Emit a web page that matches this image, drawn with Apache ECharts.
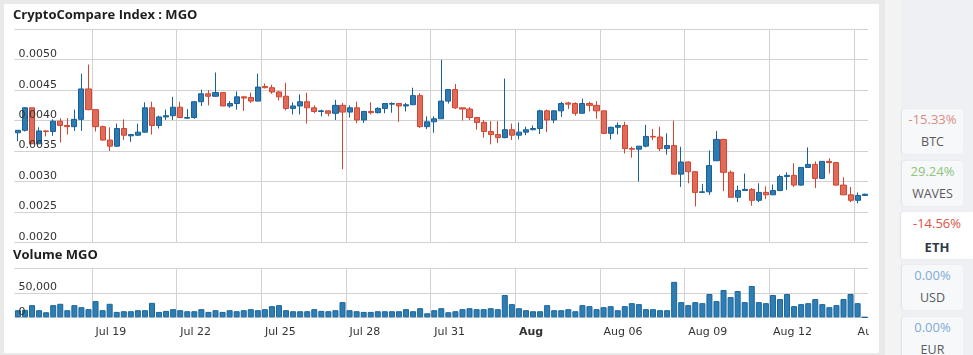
<!DOCTYPE html>
<html>
<head>
<meta charset="utf-8">
<script src="https://cdn.jsdelivr.net/npm/echarts@6/dist/echarts.min.js"></script>
<style>
html,body{margin:0;padding:0;width:973px;height:355px;overflow:hidden;background:#e9e9e9;font-family:'Open Sans',sans-serif;}
#panel{position:absolute;left:4px;top:4px;width:875px;height:349px;background:#fff;}
#chart{position:absolute;left:0;top:0;width:869px;height:355px;}
#strip{position:absolute;left:885px;top:0;width:16px;height:355px;background:#f3f3f3;}
#side{position:absolute;left:901px;top:0;width:72px;height:355px;background:#eef0f3;}
.card{position:absolute;left:902px;width:61px;height:45px;background:#f7f8fa;border-radius:3px;box-shadow:-1px 0 2px rgba(0,0,0,0.07);}
.card.sel{left:901px;width:72px;height:47px;background:#fff;border-radius:3px 0 0 3px;}
.pct{position:absolute;left:0;right:0;top:1px;height:18px;line-height:18px;text-align:center;font-size:13px;}
.nm{position:absolute;left:0;right:0;top:24px;height:18px;line-height:18px;text-align:center;font-size:12.5px;color:#5a5a5a;}
.sel .pct{top:2px;}
.sel .nm{top:26px;font-weight:bold;color:#2d3a4a;font-size:13px;}
</style>
</head>
<body>
<div id="panel"></div>
<div id="strip"></div>
<div id="side"></div>
<div class="card" style="top:109px"><div class="pct" style="color:#d98c84">-15.33%</div><div class="nm">BTC</div></div>
<div class="card" style="top:161px"><div class="pct" style="color:#8dc47c">29.24%</div><div class="nm">WAVES</div></div>
<div class="card sel" style="top:212px"><div class="pct" style="color:#dc5446">-14.56%</div><div class="nm">ETH</div></div>
<div class="card" style="top:265px"><div class="pct" style="color:#7fabd4">0.00%</div><div class="nm">USD</div></div>
<div class="card" style="top:317px;height:50px"><div class="pct" style="color:#7fabd4">0.00%</div><div class="nm">EUR</div></div>
<div id="chart"></div>
<script>
// ---- data: 6-hour candles, Jul 16 06:00 .. Aug 15 06:00 ----
const open = [
0.00380,0.00384,0.00421,0.00362,0.00383,0.00382,0.00399,0.00392,0.00390,0.00402,
0.00452,0.00418,0.00390,0.00368,0.00358,0.00387,0.00375,0.00376,0.00381,0.00421,
0.00392,0.00406,0.00408,0.00422,0.00404,0.00405,0.00431,0.00444,0.00440,0.00446,
0.00424,0.00428,0.00439,0.00438,0.00432,0.00456,0.00454,0.00447,0.00440,0.00420,
0.00424,0.00431,0.00421,0.00415,0.00416,0.00412,0.00425,0.00414,0.00421,0.00401,
0.00415,0.00413,0.00420,0.00427,0.00428,0.00424,0.00426,0.00441,0.00390,0.00398,
0.00403,0.00432,0.00451,0.00421,0.00419,0.00405,0.00397,0.00382,0.00377,0.00372,
0.00385,0.00376,0.00381,0.00385,0.00387,0.00416,0.00401,0.00416,0.00429,0.00428,
0.00412,0.00428,0.00425,0.00416,0.00379,0.00389,0.00392,0.00354,0.00353,0.00358,
0.00374,0.00373,0.00354,0.00359,0.00312,0.00332,0.00316,0.00282,0.00283,0.00334,
0.00369,0.00315,0.00274,0.00285,0.00287,0.00269,0.00282,0.00278,0.00285,0.00308,
0.00310,0.00294,0.00323,0.00328,0.00305,0.00333,0.00331,0.00294,0.00278,0.00269,
0.00277];
const close = [
0.00384,0.00421,0.00362,0.00383,0.00382,0.00399,0.00392,0.00390,0.00402,0.00452,
0.00418,0.00390,0.00368,0.00358,0.00387,0.00376,0.00377,0.00381,0.00421,0.00392,
0.00406,0.00408,0.00422,0.00405,0.00405,0.00431,0.00444,0.00440,0.00446,0.00424,
0.00428,0.00439,0.00437,0.00432,0.00455,0.00454,0.00447,0.00439,0.00420,0.00424,
0.00431,0.00421,0.00415,0.00416,0.00412,0.00425,0.00414,0.00421,0.00401,0.00415,
0.00413,0.00420,0.00428,0.00428,0.00424,0.00426,0.00441,0.00390,0.00398,0.00403,
0.00432,0.00451,0.00421,0.00419,0.00405,0.00397,0.00382,0.00377,0.00372,0.00385,
0.00376,0.00381,0.00385,0.00387,0.00416,0.00401,0.00416,0.00428,0.00427,0.00412,
0.00428,0.00425,0.00416,0.00379,0.00389,0.00392,0.00354,0.00353,0.00358,0.00374,
0.00373,0.00354,0.00359,0.00312,0.00332,0.00316,0.00282,0.00283,0.00326,0.00369,
0.00315,0.00274,0.00285,0.00287,0.00269,0.00282,0.00278,0.00285,0.00308,0.00310,
0.00294,0.00323,0.00328,0.00305,0.00333,0.00331,0.00294,0.00278,0.00269,0.00277,
0.00279];
const low = [
0.00366,0.00382,0.00361,0.00361,0.00374,0.00375,0.00364,0.00377,0.00383,0.00383,
0.00417,0.00382,0.00367,0.00350,0.00357,0.00368,0.00365,0.00375,0.00380,0.00377,
0.00387,0.00401,0.00401,0.00405,0.00403,0.00403,0.00424,0.00425,0.00439,0.00424,
0.00421,0.00418,0.00416,0.00429,0.00432,0.00453,0.00444,0.00433,0.00417,0.00410,
0.00410,0.00395,0.00412,0.00407,0.00407,0.00401,0.00320,0.00405,0.00396,0.00396,
0.00410,0.00412,0.00412,0.00413,0.00398,0.00415,0.00426,0.00388,0.00386,0.00380,
0.00403,0.00428,0.00419,0.00400,0.00401,0.00385,0.00372,0.00361,0.00363,0.00371,
0.00368,0.00369,0.00376,0.00384,0.00378,0.00381,0.00396,0.00406,0.00419,0.00408,
0.00412,0.00415,0.00403,0.00378,0.00369,0.00377,0.00346,0.00339,0.00300,0.00356,
0.00368,0.00350,0.00344,0.00312,0.00291,0.00297,0.00259,0.00282,0.00278,0.00334,
0.00284,0.00274,0.00266,0.00285,0.00260,0.00266,0.00271,0.00278,0.00284,0.00286,
0.00291,0.00293,0.00323,0.00289,0.00305,0.00313,0.00294,0.00278,0.00266,0.00264,
0.00277];
const high = [
0.00384,0.00422,0.00421,0.00389,0.00384,0.00402,0.00404,0.00404,0.00418,0.00477,
0.00492,0.00418,0.00392,0.00389,0.00395,0.00402,0.00378,0.00395,0.00430,0.00431,
0.00408,0.00418,0.00439,0.00431,0.00419,0.00432,0.00451,0.00450,0.00479,0.00446,
0.00432,0.00448,0.00440,0.00446,0.00477,0.00461,0.00459,0.00449,0.00462,0.00430,
0.00443,0.00446,0.00425,0.00418,0.00417,0.00434,0.00429,0.00425,0.00431,0.00416,
0.00430,0.00422,0.00428,0.00430,0.00429,0.00429,0.00454,0.00445,0.00407,0.00407,
0.00500,0.00451,0.00460,0.00421,0.00422,0.00406,0.00401,0.00399,0.00399,0.00469,
0.00395,0.00397,0.00390,0.00392,0.00418,0.00418,0.00417,0.00431,0.00431,0.00430,
0.00436,0.00431,0.00432,0.00416,0.00390,0.00397,0.00398,0.00357,0.00358,0.00393,
0.00386,0.00390,0.00379,0.00400,0.00357,0.00333,0.00317,0.00296,0.00351,0.00383,
0.00370,0.00318,0.00293,0.00313,0.00289,0.00297,0.00292,0.00295,0.00311,0.00315,
0.00330,0.00323,0.00356,0.00333,0.00333,0.00338,0.00331,0.00307,0.00291,0.00282,
0.00280];
const volume = [
14600,15300,25000,14600,10400,25000,27800,14600,25000,20800,
16700,33300,14600,27800,11100,12500,12500,14600,14600,29800,
11100,13200,16700,14600,12500,12500,16700,11100,14600,11100,
14600,12500,14600,16700,14600,16700,22900,25000,14600,12500,
12500,12500,16700,13200,12500,14600,31200,14600,12500,11100,
11100,12500,12500,12500,12500,16700,12500,18700,8300,14600,
18700,10400,12500,16700,18700,16700,16700,18700,16700,45800,
27100,18700,14600,12500,12500,25000,14600,14600,16700,12500,
25000,22900,16700,20800,22900,14600,22900,29100,27100,16700,
16700,14600,14600,72900,31200,25000,31200,29100,47900,33300,
56200,41600,54100,31200,64500,31200,29100,45800,37500,47900,
22900,27100,29100,37500,27100,20800,25000,37500,47900,29100,
0];
const tickCategories = ['Jul 19 00:00','Jul 22 00:00','Jul 25 00:00','Jul 28 00:00','Jul 31 00:00',
  'Aug 03 00:00','Aug 06 00:00','Aug 09 00:00','Aug 12 00:00','Aug 15 00:00'];
const tickLabels = ['Jul 19','Jul 22','Jul 25','Jul 28','Jul 31','Aug','Aug 06','Aug 09','Aug 12','Aug 15'];

// category names: 6-hour periods
const MONTHS = ['Jan','Feb','Mar','Apr','May','Jun','Jul','Aug','Sep','Oct','Nov','Dec'];
const categories = [];
const t0 = Date.UTC(2018, 6, 16, 6);
for (let i = 0; i < open.length; i++) {
  const d = new Date(t0 + i * 6 * 3600 * 1000);
  categories.push(MONTHS[d.getUTCMonth()] + ' ' + String(d.getUTCDate()).padStart(2, '0') + ' ' +
    String(d.getUTCHours()).padStart(2, '0') + ':00');
}
const candles = open.map((o, i) => [o, close[i], low[i], high[i]]);
const tickSet = new Set(tickCategories.map(c => categories.indexOf(c)));
const isTick = (idx) => tickSet.has(idx);

const FONT = 'DejaVu Sans';
const gridLineColor = '#d2d2d2';
const split = { show: true, interval: isTick, showMaxLine: false, lineStyle: { color: gridLineColor, width: 1 } };
const hsplit = { show: true, lineStyle: { color: gridLineColor, width: 1 } };

const chart = echarts.init(document.getElementById('chart'), null, { renderer: 'canvas' });
chart.setOption({
  animation: false,
  backgroundColor: 'transparent',
  title: [
    { text: 'CryptoCompare Index : MGO', left: 13, top: 9, padding: 0,
      textStyle: { fontFamily: 'Open Sans', fontWeight: 'bold', fontSize: 13, color: '#1e1e1e' } },
    { text: 'Volume MGO', left: 13, top: 249, padding: 0,
      textStyle: { fontFamily: 'Open Sans', fontWeight: 'bold', fontSize: 13, color: '#1e1e1e' } }
  ],
  grid: [
    { left: 14.4, right: 0.8, top: 29.3, height: 213, containLabel: false, outerBoundsMode: 'none' },
    { left: 14.4, right: 0.8, top: 268.7, height: 48.6, containLabel: false, outerBoundsMode: 'none' }
  ],
  xAxis: [
    { type: 'category', gridIndex: 0, data: categories, boundaryGap: true,
      axisLine: { show: false }, axisTick: { show: false }, axisLabel: { show: false },
      splitLine: split },
    { type: 'category', gridIndex: 1, data: categories, boundaryGap: true,
      axisLine: { show: false }, axisTick: { show: false, interval: isTick },
      axisLabel: { show: true, interval: isTick, align: 'left', margin: 9,
        fontFamily: FONT, fontSize: 11, color: '#333',
        formatter: (v) => { const k = tickCategories.indexOf(v); const t = tickLabels[k];
          return t === 'Aug' ? '{b|' + t + '}' : t; },
        rich: { b: { fontFamily: FONT, fontSize: 11, fontWeight: 'bold', color: '#333' } } },
      splitLine: split }
  ],
  yAxis: [
    { type: 'value', gridIndex: 0, min: 0.0020, max: 0.0055, interval: 0.0005, position: 'left',
      axisLine: { show: false }, axisTick: { show: false }, axisLabel: { show: false }, splitLine: hsplit },
    { type: 'value', gridIndex: 0, min: 0.0020, max: 0.0055, interval: 0.0005, position: 'left', offset: 0, z: 10,
      axisLine: { show: false }, axisTick: { show: false }, splitLine: { show: false },
      axisLabel: { show: true, inside: true, margin: 4, verticalAlign: 'bottom', showMaxLabel: false,
        fontFamily: FONT, fontSize: 11, color: '#333', formatter: (v) => v.toFixed(4) } },
    { type: 'value', gridIndex: 1, min: 0, max: 100000, interval: 50000, position: 'left',
      axisLine: { show: false }, axisTick: { show: false }, axisLabel: { show: false }, splitLine: hsplit },
    { type: 'value', gridIndex: 1, min: 0, max: 100000, interval: 50000, position: 'left', offset: 0, z: 10,
      axisLine: { show: false }, axisTick: { show: false }, splitLine: { show: false },
      axisLabel: { show: true, inside: true, margin: 4, verticalAlign: 'bottom', showMaxLabel: false,
        fontFamily: FONT, fontSize: 11, color: '#333',
        formatter: (v) => Math.round(v).toLocaleString('en-US') } }
  ],
  series: [
    { type: 'candlestick', name: 'MGO', xAxisIndex: 0, yAxisIndex: 0, data: candles, barWidth: 5.6,
      itemStyle: { color: '#2e7bb0', color0: '#df6b5b', borderColor: '#16619b', borderColor0: '#d4452f', borderWidth: 1 } },
    { type: 'bar', name: 'Volume', xAxisIndex: 1, yAxisIndex: 2, data: volume, barWidth: 6,
      itemStyle: { color: '#2e7eb3', borderColor: '#1a659c', borderWidth: 1 } }
  ]
});
</script>
</body>
</html>
